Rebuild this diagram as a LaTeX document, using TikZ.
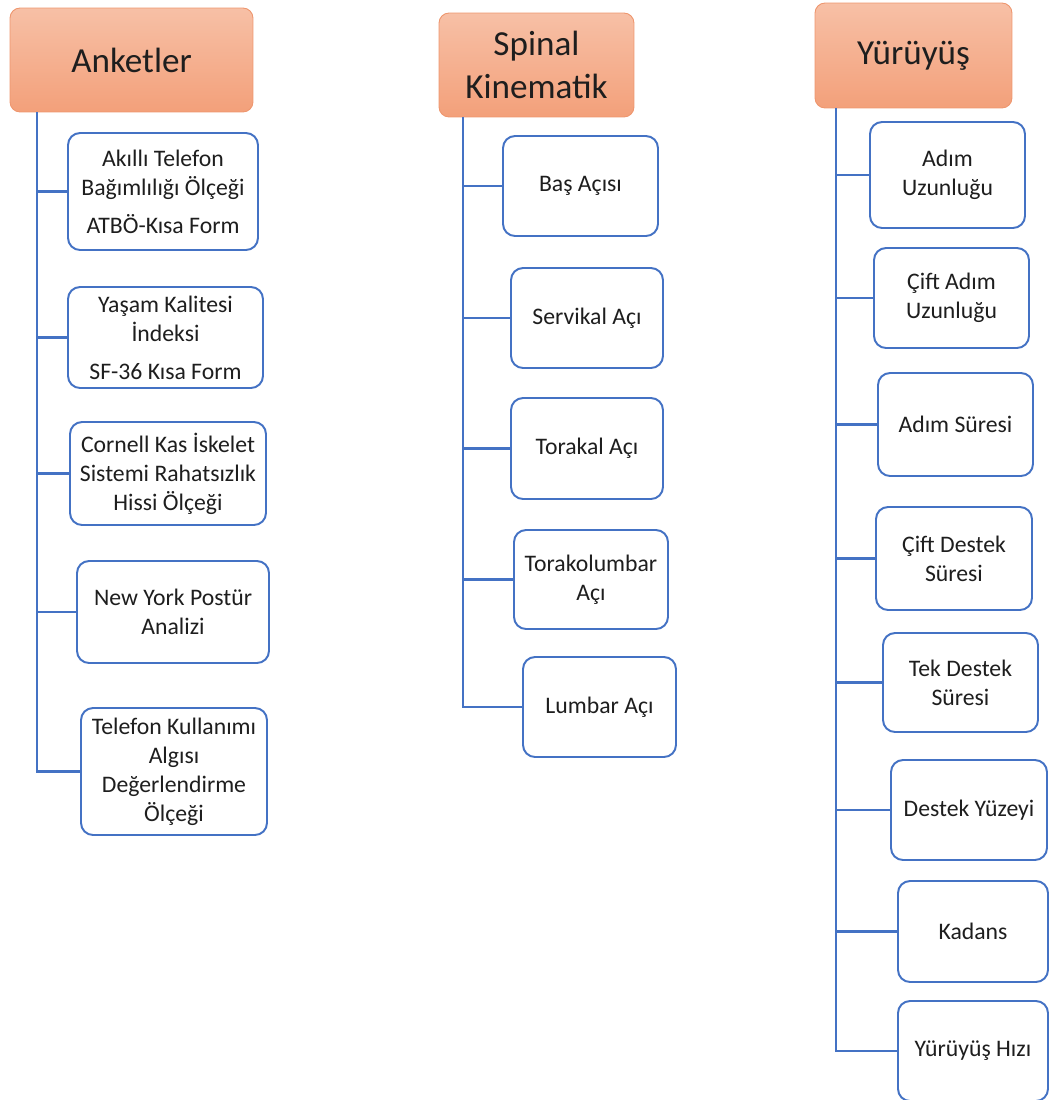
\documentclass[tikz,border=0pt]{standalone}
\usepackage{fontspec}
\setmainfont{Carlito}

\definecolor{boxblue}{RGB}{68,114,196}
\definecolor{headtop}{RGB}{247,192,166}
\definecolor{headbot}{RGB}{243,160,122}
\definecolor{headline}{RGB}{238,150,110}
\definecolor{textdark}{RGB}{30,30,30}

\begin{document}
\begin{tikzpicture}[x=0.02cm, y=-0.02cm,
    head/.style={draw=headline, line width=0.5pt, rounded corners=0.2cm,
        top color=headtop, bottom color=headbot, inner sep=0pt, align=center,
        text=textdark, font=\fontsize{20}{24}\selectfont},
    item/.style={draw=boxblue, line width=1.1pt, rounded corners=0.24cm,
        fill=white, inner sep=0pt, align=center, text=textdark,
        font=\fontsize{13.5}{16.5}\selectfont},
    conn/.style={draw=boxblue, line width=1.4pt}]

    \useasboundingbox (0, 0) rectangle (1049, 1100);

    % Anketler
    \node[head, minimum width=4.86cm, minimum height=2.08cm] (ank) at (131.5, 60) {Anketler};
    \coordinate (ankt) at (37, 112);

    \node[item, minimum width=3.8cm, minimum height=2.34cm] (ank1) at (163, 191.5)
        {Akıllı Telefon\\ Bağımlılığı Ölçeği\\[5pt] ATBÖ-Kısa Form};
    \node[item, minimum width=3.9cm, minimum height=2.02cm] (ank2) at (165.5, 337.5)
        {Yaşam Kalitesi\\ İndeksi\\[5pt] SF-36 Kısa Form};
    \node[item, minimum width=3.92cm, minimum height=2.06cm] (ank3) at (168, 473.5)
        {Cornell Kas İskelet\\ Sistemi Rahatsızlık\\ Hissi Ölçeği};
    \node[item, minimum width=3.84cm, minimum height=2.04cm] (ank4) at (173, 612)
        {New York Postür\\ Analizi};
    \node[item, minimum width=3.72cm, minimum height=2.54cm] (ank5) at (174, 771.5)
        {Telefon Kullanımı\\ Algısı\\ Değerlendirme\\ Ölçeği};

    \draw[conn] (ankt) |- (ank1.west);
    \draw[conn] (ankt) |- (ank2.west);
    \draw[conn] (ankt) |- (ank3.west);
    \draw[conn] (ankt) |- (ank4.west);
    \draw[conn] (ankt) |- (ank5.west);

    % Spinal Kinematik
    \node[head, minimum width=3.9cm, minimum height=2.08cm] (spn) at (536.5, 65) {Spinal\\ Kinematik};
    \coordinate (spnt) at (463, 117);

    \node[item, minimum width=3.1cm, minimum height=2.0cm] (spn1) at (580.5, 186) {Baş Açısı};
    \node[item, minimum width=3.04cm, minimum height=2.0cm] (spn2) at (587, 318) {Servikal Açı};
    \node[item, minimum width=3.04cm, minimum height=2.02cm] (spn3) at (587, 448.5) {Torakal Açı};
    \node[item, minimum width=3.08cm, minimum height=1.98cm] (spn4) at (591, 579.5) {Torakolumbar\\ Açı};
    \node[item, minimum width=3.06cm, minimum height=2.0cm] (spn5) at (599.5, 707) {Lumbar Açı};

    \draw[conn] (spnt) |- (spn1.west);
    \draw[conn] (spnt) |- (spn2.west);
    \draw[conn] (spnt) |- (spn3.west);
    \draw[conn] (spnt) |- (spn4.west);
    \draw[conn] (spnt) |- (spn5.west);

    % Yürüyüş
    \node[head, minimum width=3.94cm, minimum height=2.1cm] (yur) at (913.5, 55.5) {Yürüyüş};
    \coordinate (yurt) at (836, 108);

    \node[item, minimum width=3.1cm, minimum height=2.12cm] (yur1) at (947.5, 175) {Adım\\ Uzunluğu};
    \node[item, minimum width=3.1cm, minimum height=2.0cm] (yur2) at (951.5, 298) {Çift Adım\\ Uzunluğu};
    \node[item, minimum width=3.1cm, minimum height=2.06cm] (yur3) at (955.5, 424.5) {Adım Süresi};
    \node[item, minimum width=3.12cm, minimum height=2.06cm] (yur4) at (954, 558.5) {Çift Destek\\ Süresi};
    \node[item, minimum width=3.1cm, minimum height=1.98cm] (yur5) at (960.5, 682.5) {Tek Destek\\ Süresi};
    \node[item, minimum width=3.12cm, minimum height=2.0cm] (yur6) at (969, 810) {Destek Yüzeyi};
    \node[item, minimum width=3.0cm, minimum height=2.02cm] (yur7) at (973, 931.5) {Kadans};
    \node[item, minimum width=3.0cm, minimum height=2.0cm] (yur8) at (973, 1051) {Yürüyüş Hızı};

    \draw[conn] (yurt) |- (yur1.west);
    \draw[conn] (yurt) |- (yur2.west);
    \draw[conn] (yurt) |- (yur3.west);
    \draw[conn] (yurt) |- (yur4.west);
    \draw[conn] (yurt) |- (yur5.west);
    \draw[conn] (yurt) |- (yur6.west);
    \draw[conn] (yurt) |- (yur7.west);
    \draw[conn] (yurt) |- (yur8.west);
\end{tikzpicture}
\end{document}
